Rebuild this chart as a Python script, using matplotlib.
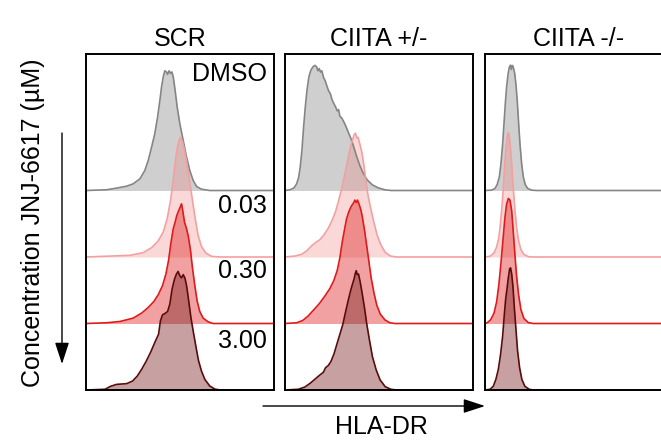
import numpy as np
import matplotlib
matplotlib.use("Agg")
import matplotlib.pyplot as plt
from matplotlib.patches import FancyArrowPatch

plt.rcParams['font.family'] = ['Liberation Sans', 'DejaVu Sans']

# panel titles and doses
panels = ['SCR', 'CIITA +/-', 'CIITA -/-']
doses = ['DMSO', '0.03', '0.30', '3.00']

# histograms: x = HLA-DR (0-100 of panel), y = % of mode
# --- SCR ---
scr_dmso_x = [0, 11, 16.3, 21.6, 25.1, 28.7, 31.3, 33.1, 34.9, 36.6, 38.1, 39.3, 40.2, 41.1, 41.9, 42.8,
              43.4, 44.2, 45, 45.7, 46.4, 47.4, 48.5, 49.9, 51.7, 53.5, 55.2, 57, 58.8, 61.4, 65.8, 100]
scr_dmso_y = [0, 0.6, 2, 3.6, 5.6, 9.8, 16.8, 25.1, 36.3, 47.5, 61.5, 75.4, 86.6, 95, 100, 99,
              97, 100, 97.8, 99, 95, 83.8, 69.8, 55.9, 41.9, 27.9, 16.8, 8.4, 3.4, 1.1, 0, 0]
scr_003_x = [0, 23.4, 30.4, 34.9, 38.4, 41.1, 43.2, 45, 46.4, 47.6, 48.7, 49.6, 50.4, 51.3, 52.6, 53.8,
             55.2, 56.6, 58.1, 59.6, 61.4, 63.7, 66.7, 71.2, 100]
scr_003_y = [0, 1.4, 3.6, 7.8, 13.4, 20.9, 32.1, 47.5, 64.2, 81, 92.2, 97.8, 100, 96.4, 88, 76.8,
             62.8, 47.5, 32.1, 18.2, 8.9, 3.4, 0.6, 0, 0]
scr_030_x = [0, 11, 18.1, 25.1, 29.6, 33.1, 36.1, 38.4, 40.7, 42.5, 43.9, 45.1, 46.4, 47.4, 48.3, 49.2,
             50.1, 50.8, 51.5, 52.4, 53.5, 54.5, 55.6, 56.6, 57.9, 59.1, 60.5, 62.3, 65, 67.6, 100]
scr_030_y = [0, 0.6, 1.7, 4.5, 8.7, 13.4, 18.4, 24, 31.6, 41.3, 52.5, 66.5, 79.1, 84.6, 90.2, 93.9,
             97.2, 100, 93.9, 84.6, 79.1, 72.1, 60.9, 46.9, 31.6, 19, 10.1, 4.5, 1.4, 0, 0]
scr_300_x = [0, 10.1, 13.1, 16.3, 21.6, 24.8, 27.3, 29.6, 31.9, 34.3, 36.6, 38.6, 39.6, 40.7, 42.1, 43.4,
             44.6, 45.8, 47.1, 48.1, 49, 49.9, 50.8, 51.7, 52.6, 53.5, 54.5, 55.8, 57, 58.4, 59.8, 61.4,
             63.2, 65.8, 68.5, 71.2, 100]
scr_300_y = [0, 0.6, 3.1, 4.7, 5.3, 7.5, 11.7, 17.3, 23.7, 31.3, 39.7, 46.6, 57.8, 62.8, 64, 65.6,
             71.8, 84.4, 92.7, 96.9, 99, 95.5, 93.6, 96.4, 93.6, 87.2, 76, 60.6, 49.4, 36.9, 24.9, 15.9,
             8.9, 3.4, 0.8, 0, 0]

# --- CIITA +/- ---
het_dmso_x = [0, 2.7, 4.8, 6.2, 7.3, 8.1, 9, 9.9, 10.8, 11.7, 12.7, 13.8, 14.9, 15.9, 16.8, 17.5, 18.2,
              18.9, 19.6, 20.5, 21.4, 22.3, 23.2, 24.1, 25, 25.8, 26.9, 27.8, 28.5, 29.2, 30.3, 31.3,
              32.4, 33.6, 34.9, 36.3, 38.1, 39.8, 41.6, 43.7, 46.5, 49.6, 53.1, 56.6, 100]
het_dmso_y = [0, 0.6, 2.2, 5.6, 11.2, 19.6, 33.5, 53.1, 69.8, 83.8, 95, 100.6, 103.4, 104.5, 103.4, 100,
              101.9, 98.9, 100, 94.4, 91.6, 87.2, 83.2, 81, 76, 73.2, 69.8, 66.5, 67.6, 62, 60.3, 57.3,
              53.6, 48.9, 44.1, 37.7, 28.5, 20.9, 14.5, 8.9, 4.7, 2.2, 0.6, 0, 0]
het_003_x = [0, 5.3, 8.8, 11.9, 14.2, 16.5, 18.6, 20.7, 23, 25.1, 26.9, 28.5, 30.1, 31.5, 32.9, 34.2,
             35.2, 36.1, 36.8, 37.5, 38.2, 38.9, 39.8, 40.9, 42, 43, 44.2, 45.7, 47.3, 49, 51, 53.3,
             56.1, 59.3, 100]
het_003_y = [0, 0.8, 2.2, 5.6, 9.5, 12.3, 14.5, 18.4, 24, 30.7, 38, 46.9, 56.7, 67, 77.7, 87.4,
             94.4, 98.6, 102.2, 103.4, 99.4, 100, 94.4, 87.4, 76.3, 63.7, 51.1, 39.9, 28.8, 18.4, 10.1, 3.9,
             0.8, 0, 0]
het_030_x = [0, 6.2, 9.4, 12.2, 15, 18.2, 21.2, 23.9, 26, 27.8, 29.2, 30.4, 31.7, 32.7, 34, 35.2, 36.3,
             37.2, 37.9, 38.6, 39.5, 40.4, 41.2, 42.3, 43.4, 44.6, 45.8, 47.3, 48.8, 50.6, 53.1, 55.8,
             58.4, 100]
het_030_y = [0, 0.6, 2.5, 6.1, 10.9, 16.5, 22.9, 29.3, 36, 44.4, 55, 67.6, 78.8, 87.2, 93.6, 97.8, 100.3,
             103.1, 101.1, 103.1, 99.2, 94.7, 88.5, 77.9, 65.6, 52.2, 38.3, 25.7, 15.4, 8.1, 3.1, 0.6,
             0, 0]
het_300_x = [0, 7.1, 10.6, 13.6, 16.5, 18.6, 20.4, 21.6, 23, 24.4, 26, 27.6, 29.2, 30.8, 32.2, 33.5,
             34.7, 35.9, 36.8, 37.3, 37.9, 38.4, 39.1, 40, 41.1, 42.3, 43.5, 45, 46.5, 48.5, 50.6, 53.3,
             56.3, 59.3, 100]
het_300_y = [0, 0.6, 2.5, 5.9, 9.8, 12.6, 14.8, 18.7, 20.4, 23.7, 29.9, 38.3, 46.6, 55, 65.1, 74,
             81.8, 88.5, 93, 96.9, 99.7, 96.4, 96.9, 90.2, 80.2, 68.4, 55, 41.1, 27.9, 16.8, 8.4, 2.8,
             0.6, 0, 0]

# --- CIITA -/- ---
ko_dmso_x = [0, 3.5, 5.3, 6.5, 7.6, 8.5, 9.4, 10.1, 10.8, 11.5, 12.2, 12.9, 13.5, 14, 14.5, 15, 15.8,
             16.5, 17.2, 17.9, 18.6, 19.5, 20.4, 21.4, 22.7, 24.8, 27.4, 100]
ko_dmso_y = [0, 0.3, 1.7, 5, 11.2, 22.3, 39.1, 55.9, 72.6, 86.6, 96.4, 102.8, 104.7, 101.1, 104.5, 103.4,
             97.8, 88, 74, 55.9, 39.1, 22.3, 11.2, 5, 1.7, 0.3, 0, 0]
ko_003_x = [0, 2.7, 4.8, 6.2, 7.3, 8.1, 9, 9.7, 10.4, 11.2, 11.9, 12.4, 12.9, 13.6, 14.3, 15, 15.9,
            16.8, 17.9, 19.1, 20.7, 23, 25.7, 100]
ko_003_y = [0, 0.6, 3.4, 8.4, 15.6, 26, 41.3, 56.7, 74.9, 91.6, 101.4, 104.2, 101.4, 90.2, 74.9, 58.1,
            39.9, 24.6, 13.4, 6.1, 2.2, 0.3, 0, 0]
ko_030_x = [0, 1.2, 3, 4.8, 6.2, 7.4, 8.5, 9.6, 10.6, 11.5, 12.4, 13.3, 14.2, 15, 15.9, 16.8, 17.9,
            19.1, 20.7, 23, 25.7, 100]
ko_030_y = [0, 0.6, 3.1, 8.7, 18.2, 32.7, 50.8, 70.4, 88.5, 99.7, 104.5, 103.1, 94.1, 77.4, 57.8, 39.7,
            23.7, 11.7, 4.2, 0.8, 0, 0]
ko_300_x = [0, 2.7, 4.4, 5.8, 7.1, 8.3, 9.4, 10.3, 11, 11.7, 12.4, 13.1, 13.6, 14.2, 14.9, 15.6, 16.5,
            17.3, 18.4, 19.6, 21.2, 23.5, 25.7, 100]
ko_300_y = [0, 0.6, 3.1, 8.9, 17.3, 29.9, 45.3, 63.4, 76, 84.4, 93.6, 101.1, 102, 96.9, 85.8, 69, 50,
            33.2, 18.7, 8.9, 3.1, 0.6, 0, 0]

curves = [
    [(scr_dmso_x, scr_dmso_y), (scr_003_x, scr_003_y), (scr_030_x, scr_030_y), (scr_300_x, scr_300_y)],
    [(het_dmso_x, het_dmso_y), (het_003_x, het_003_y), (het_030_x, het_030_y), (het_300_x, het_300_y)],
    [(ko_dmso_x, ko_dmso_y), (ko_003_x, ko_003_y), (ko_030_x, ko_030_y), (ko_300_x, ko_300_y)],
]

line_colors = ['#858585', '#f2a0a0', '#e01a1a', '#5a0c0c']
fill_colors = ['#a0a0a0', '#f08080', '#e03030', '#7a2020']
fill_alpha = [0.5, 0.3, 0.45, 0.42]

W, H = 661, 440
fig = plt.figure(figsize=(W / 100, H / 100), dpi=100)
fs = 18

panel_left = [86, 285, 485]
panel_w = 188
top_px, bot_px = 54, 390
strip = 66.5          # pixel height of one ridge step
peak = 1.8            # 100 % of mode in ridge steps
ytop = (bot_px - top_px) / strip

for p, name in enumerate(panels):
    ax = fig.add_axes([panel_left[p] / W, 1 - bot_px / H, panel_w / W, (bot_px - top_px) / H])
    for i in range(4):
        x, y = curves[p][i]
        off = 3 - i
        yy = off + np.array(y) / 100 * peak
        ax.fill_between(x, off, yy, color=fill_colors[i], alpha=fill_alpha[i], lw=0, zorder=2 + i)
        ax.plot(x, yy, color=line_colors[i], lw=1.2, zorder=6 + i)
    ax.set_xlim(0, 100)
    ax.set_ylim(0, ytop)
    ax.set_xticks([])
    ax.set_yticks([])
    for s in ax.spines.values():
        s.set_linewidth(1.4)
        s.set_zorder(20)
    ax.text(0.5, 1 + 8 / (bot_px - top_px), name, transform=ax.transAxes, ha='center',
            va='baseline', fontsize=fs)
    if p == 0:
        label_y = [4.65, 2.66, 1.68, 0.63]
        for d, ly in zip(doses, label_y):
            ax.text(96.3, ly, d, ha='right', va='baseline', fontsize=fs, zorder=30)

# concentration arrow and label
arr = FancyArrowPatch((62 / W, 1 - 133 / H), (62 / W, 1 - 364 / H), transform=fig.transFigure,
                      arrowstyle='-|>,head_length=1.1,head_width=0.36', mutation_scale=12,
                      color='black', lw=1.0, shrinkA=0, shrinkB=0)
fig.patches.append(arr)
fig.text(33 / W, 1 - 223 / H, 'Concentration JNJ-6617 (µM)', rotation=90, ha='center', va='center',
         fontsize=fs)

# HLA-DR arrow and label
arr2 = FancyArrowPatch((263 / W, 1 - 406 / H), (485 / W, 1 - 406 / H), transform=fig.transFigure,
                       arrowstyle='-|>,head_length=1.1,head_width=0.36', mutation_scale=12,
                       color='black', lw=1.0, shrinkA=0, shrinkB=0)
fig.patches.append(arr2)
fig.text(381 / W, 1 - 434 / H, 'HLA-DR', ha='center', va='baseline', fontsize=fs)

plt.savefig("out.png", dpi=100)
